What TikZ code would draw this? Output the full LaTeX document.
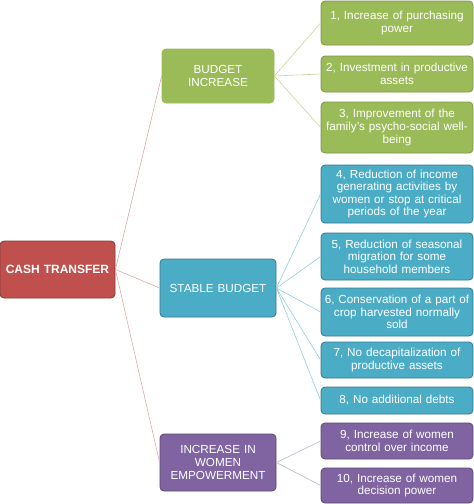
\documentclass[tikz,border=0pt]{standalone}
\usepackage{fontspec}
\setmainfont{Liberation Sans}
\definecolor{cred}{HTML}{C0504D}
\definecolor{cgreen}{HTML}{9BBB59}
\definecolor{cblue}{HTML}{4BACC6}
\definecolor{cpurple}{HTML}{8064A2}
\begin{document}
\begin{tikzpicture}[x=1pt,y=-1pt,
  box/.style={rectangle, rounded corners=4pt, line width=0.8pt, text=white, align=center, font=\fontsize{11.7}{12.6}\selectfont, inner sep=0pt},
  leaf/.style={box, minimum width=152pt, text width=150pt},
  gleaf/.style={leaf, fill=cgreen, draw=cgreen!80!black},
  bleaf/.style={leaf, fill=cblue, draw=cblue!70!black},
  pleaf/.style={leaf, fill=cpurple, draw=cpurple!70!black},
  branch/.style={box, minimum width=116pt, text width=114pt},
  redline/.style={draw=cred!50, line width=0.6pt},
  gline/.style={draw=cgreen!60, line width=0.6pt},
  bline/.style={draw=cblue!60, line width=0.6pt},
  pline/.style={draw=cpurple!50, line width=0.6pt}]
\useasboundingbox (0,0) rectangle (474,504);
\node[box, fill=cred, draw=cred!70!black, minimum width=115pt, minimum height=57pt, text width=113pt, font=\fontsize{12}{13}\selectfont\bfseries] (cash) at (57.5,269.5) {CASH TRANSFER};
\node[branch, fill=cgreen, draw=cgreen, minimum width=112pt, text width=110pt, minimum height=54pt] (bi) at (218,76) {BUDGET\\INCREASE};
\node[branch, fill=cblue, draw=cblue!70!black, minimum height=58pt] (sb) at (218,288) {STABLE BUDGET};
\node[branch, fill=cpurple, draw=cpurple!70!black, minimum height=57pt] (we) at (218,462.5) {INCREASE IN\\WOMEN\\EMPOWERMENT};
\node[gleaf, minimum height=44pt] (l1) at (397,23) {1, Increase of purchasing\\power};
\node[gleaf, minimum height=36pt] (l2) at (397,74) {2, Investment in productive\\assets};
\node[gleaf, minimum height=51pt] (l3) at (397,127.5) {3, Improvement of the\\family's psycho-social well-\\being};
\node[bleaf, minimum height=58pt] (l4) at (397,194) {4, Reduction of income\\generating activities by\\women or stop at critical\\periods of the year};
\node[bleaf, minimum height=47pt] (l5) at (397,256.5) {5, Reduction of seasonal\\migration for some\\household members};
\node[bleaf, minimum height=48pt] (l6) at (397,312) {6, Conservation of a part of\\crop harvested normally\\sold};
\node[bleaf, minimum height=36pt] (l7) at (397,360) {7, No decapitalization of\\productive assets};
\node[bleaf, minimum height=27pt] (l8) at (397,400.5) {8, No additional debts};
\node[pleaf, minimum height=36pt] (l9) at (397,441) {9, Increase of women\\control over income};
\node[pleaf, minimum height=35pt] (l10) at (397,485.5) {10, Increase of women\\decision power};
\foreach \b in {bi,sb,we} \draw[redline] (cash.east) -- (\b.west);
\foreach \l in {l1,l2,l3} \draw[gline] (bi.east) -- (\l.west);
\foreach \l in {l4,l5,l6,l7,l8} \draw[bline] (sb.east) -- (\l.west);
\foreach \l in {l9,l10} \draw[pline] (we.east) -- (\l.west);
\end{tikzpicture}
\end{document}
